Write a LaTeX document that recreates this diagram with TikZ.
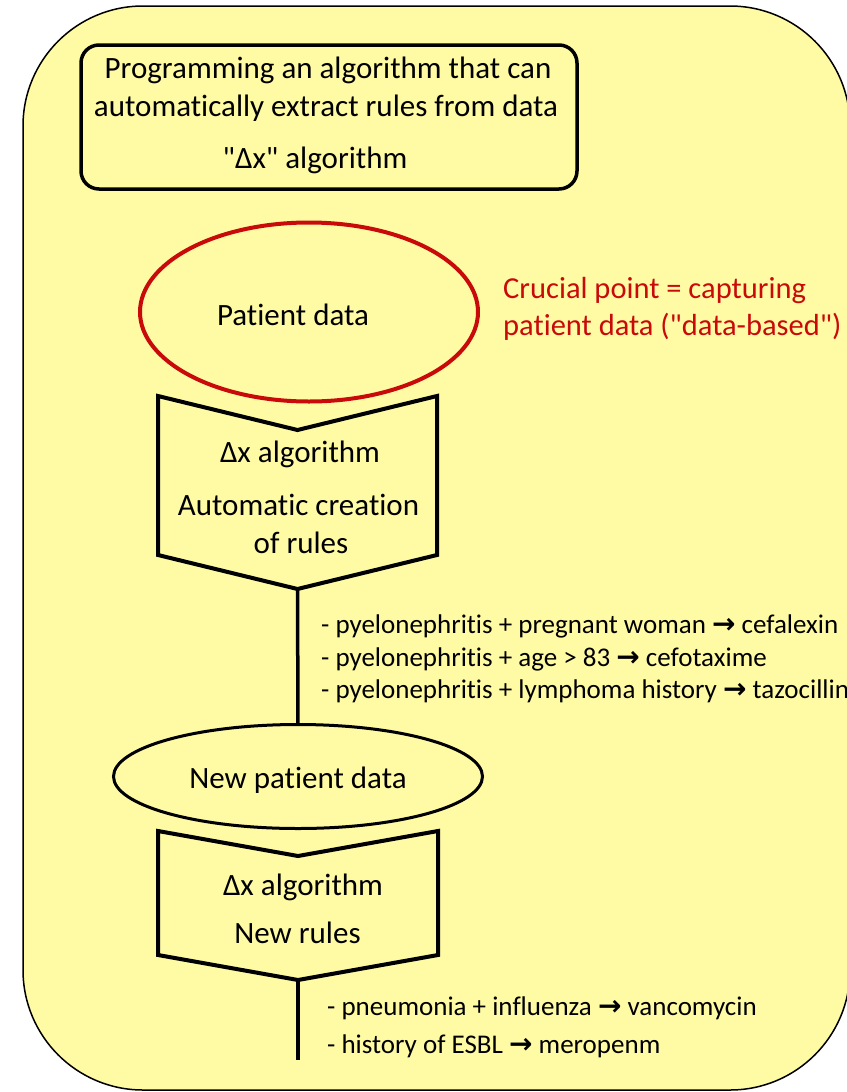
\documentclass[tikz,border=0pt]{standalone}
\usepackage{fontspec}
\setmainfont{Carlito}[Ligatures={TeXOff,CommonOff}]
\newfontfamily\arrowfont{DejaVu Sans}
\usetikzlibrary{shapes.geometric}
\definecolor{bgyellow}{RGB}{255,251,165}
\definecolor{alertred}{RGB}{200,10,10}
\newcommand{\rarr}{{\arrowfont\bfseries\fontsize{28}{31}\selectfont →}}
\tikzset{
  maintext/.style={font=\fontsize{31}{38}\selectfont, inner sep=0pt, anchor=base},
  ruletext/.style={font=\fontsize{27}{31}\selectfont, inner sep=0pt, anchor=base west},
  redtext/.style={font=\fontsize{30.5}{37}\selectfont, text=alertred, inner sep=0pt, anchor=base west},
  frame/.style={draw=black, line width=1.5pt, fill=bgyellow, rounded corners=120pt},
  topboxstyle/.style={draw, line width=3.5pt, rounded corners=18pt, minimum width=496pt, minimum height=144pt, inner sep=0pt, outer sep=0pt},
  redell/.style={ellipse, draw=alertred, line width=4pt, minimum width=338pt, minimum height=179pt, inner sep=0pt, outer sep=0pt},
  blkell/.style={ellipse, draw=black, line width=3pt, minimum width=369pt, minimum height=104pt, inner sep=0pt, outer sep=0pt},
  pent/.style={draw=black, line width=4pt, line join=miter},
  conn/.style={draw=black, line width=3.5pt}
}
\begin{document}
\begin{tikzpicture}[x=1pt,y=-1pt]
\useasboundingbox (0,0) rectangle (846,1092);
\draw[frame] (23,6) rectangle (850,1090);

% top box
\node[topboxstyle] (topbox) at (329,117) {};
\node[maintext] (t1) at (328,78) {Programming an algorithm that can};
\node[maintext] (t2) at (326,116) {automatically extract rules from data};
\node[maintext] (t3) at (315,168) {"Δx" algorithm};

% patient data
\node[redell] (pd) at (309,312) {};
\node[maintext] (pdt) at (293,325) {Patient data};
\node[redtext] (c1) at (503,298) {Crucial point = capturing};
\node[redtext] (c2) at (503,335) {patient data ("data-based")};

% first algorithm block
\coordinate (a1tl) at (158,396);
\coordinate (a1n) at (297.5,430);
\coordinate (a1tr) at (437,396);
\coordinate (a1br) at (437,555);
\coordinate (a1tip) at (297.5,589);
\coordinate (a1bl) at (158,555);
\draw[pent] (a1tl) -- (a1n) -- (a1tr) -- (a1br) -- (a1tip) -- (a1bl) -- cycle;
\node[maintext] (a1x) at (300,462) {Δx algorithm};
\node[maintext] (a1y) at (298.5,515) {Automatic creation};
\node[maintext] (a1z) at (301,553) {of rules};

% rules 1
\node[ruletext] (r1) at (321,633) {- pyelonephritis + pregnant woman \rarr{} cefalexin};
\node[ruletext] (r2) at (321,666) {- pyelonephritis + age > 83 \rarr{} cefotaxime};
\node[ruletext] (r3) at (321,698) {- pyelonephritis + lymphoma history \rarr{} tazocillin};

% new patient data
\node[blkell] (np) at (298,776.5) {};
\node[maintext] (npt) at (298,788) {New patient data};
\draw[conn] (a1tip) -- (np.north);

% second algorithm block
\coordinate (a2tl) at (158,831);
\coordinate (a2n) at (298,856);
\coordinate (a2tr) at (438,831);
\coordinate (a2br) at (438,955);
\coordinate (a2tip) at (298,980);
\coordinate (a2bl) at (158,955);
\draw[pent] (a2tl) -- (a2n) -- (a2tr) -- (a2br) -- (a2tip) -- (a2bl) -- cycle;
\node[maintext] (a2x) at (303,895) {Δx algorithm};
\node[maintext] (a2y) at (297.5,943) {New rules};

\coordinate (a2end) at (298,1060);
\draw[conn] (a2tip) -- (a2end);

% rules 2
\node[ruletext] (s1) at (327,1015) {- pneumonia + influenza \rarr{} vancomycin};
\node[ruletext] (s2) at (327,1053) {- history of ESBL \rarr{} meropenm};
\end{tikzpicture}
\end{document}
